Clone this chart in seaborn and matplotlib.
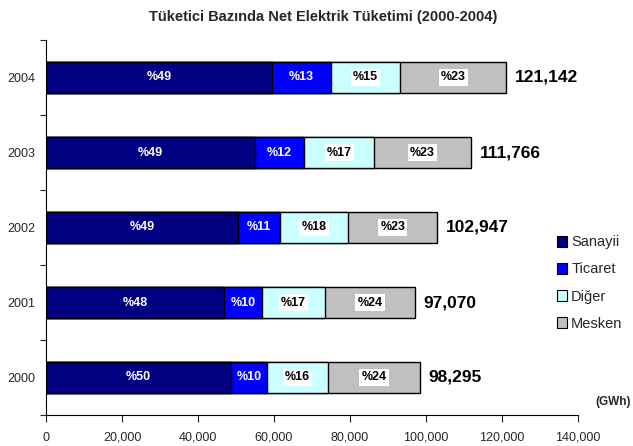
import matplotlib
matplotlib.use("Agg")
import matplotlib.pyplot as plt
import seaborn as sns
import pandas as pd
import numpy as np
from matplotlib.patches import Patch
from matplotlib.ticker import FuncFormatter, FixedLocator

# ---- data ----
years = ["2004", "2003", "2002", "2001", "2000"]
sanayii = [59400, 54900, 50500, 46900, 48800]
ticaret = [15700, 13000, 11000, 9900, 9400]
diger = [18100, 18500, 18100, 16600, 16100]
totals = [121142, 111766, 102947, 97070, 98295]
mesken = [t - s - c - d for t, s, c, d in zip(totals, sanayii, ticaret, diger)]
series_names = ["Sanayii", "Ticaret", "Diğer", "Mesken"]
colors = ["#000080", "#0000FF", "#CCFFFF", "#C0C0C0"]
title = "Tüketici Bazında Net Elektrik Tüketimi (2000-2004)"
unit = "(GWh)"

sns.set_style("white")
plt.rcParams["font.family"] = ["Liberation Sans Narrow", "Liberation Sans", "DejaVu Sans"]

df = pd.DataFrame({"year": years, "Sanayii": sanayii, "Ticaret": ticaret,
                   "Diğer": diger, "Mesken": mesken})
cum = df[series_names].cumsum(axis=1)

fig = plt.figure(figsize=(6.33, 4.46), dpi=100)
ax = fig.add_axes([46 / 633, 1 - 415 / 446, 532 / 633, 375 / 446])

# draw widest cumulative first so narrower overlay
for name, col in reversed(list(zip(series_names, colors))):
    sns.barplot(data=cum.assign(year=years), x=name, y="year", order=years,
                color=col, edgecolor="black", linewidth=1.0, width=0.42,
                saturation=1, ax=ax, orient="h")

# segment labels
for i, yr in enumerate(years):
    left = 0
    for name in series_names:
        v = df.loc[i, name]
        pct = int(round(v / totals[i] * 100))
        cx = left + v / 2
        if name in ("Sanayii", "Ticaret"):
            ax.text(cx, i, f"%{pct}", ha="center", va="center", color="white",
                    fontsize=9, fontweight="bold")
        else:
            ax.text(cx, i, f"%{pct}", ha="center", va="center", color="black",
                    fontsize=9, fontweight="bold",
                    bbox=dict(facecolor="white", edgecolor="none", pad=1.5))
        left += v
    ax.text(totals[i] + 2300, i, f"{totals[i]:,}", ha="left", va="center",
            fontsize=12.5, fontweight="bold", color="black")

ax.set_xlim(0, 140000)
ax.set_ylim(4.5, -0.5)
ax.set_xticks(np.arange(0, 140001, 20000))
ax.xaxis.set_major_formatter(FuncFormatter(lambda v, p: f"{int(v):,}"))
ax.set_xlabel("")
ax.set_ylabel("")
ax.yaxis.set_minor_locator(FixedLocator(np.arange(-0.5, 4.6, 1.0)))
ax.tick_params(axis="y", which="major", length=0, labelsize=9, pad=8)
ax.tick_params(axis="y", which="minor", length=4, width=0.8, direction="out", left=True)
ax.tick_params(axis="x", which="major", length=5, width=0.8, direction="out",
               bottom=True, labelsize=9, pad=7)
for s in ["top", "right"]:
    ax.spines[s].set_visible(False)
for s in ["left", "bottom"]:
    ax.spines[s].set_color("black")
    ax.spines[s].set_linewidth(0.8)

fig.text(323 / 633, 1 - 17 / 446, title, ha="center", va="center",
         fontsize=10.5, fontweight="bold")
fig.text(631 / 633, 1 - 402 / 446, unit, ha="right", va="center",
         fontsize=8.5, fontweight="bold")

handles = [Patch(facecolor=c, edgecolor="black", linewidth=0.8, label=n)
           for n, c in zip(series_names, colors)]
fig.legend(handles=handles, loc="upper left", bbox_to_anchor=(550 / 633, 1 - 228 / 446),
           frameon=False, fontsize=10.5, handlelength=0.65, handleheight=0.8,
           handletextpad=0.3, labelspacing=0.9, borderpad=0)

fig.savefig("out.png", dpi=100)
